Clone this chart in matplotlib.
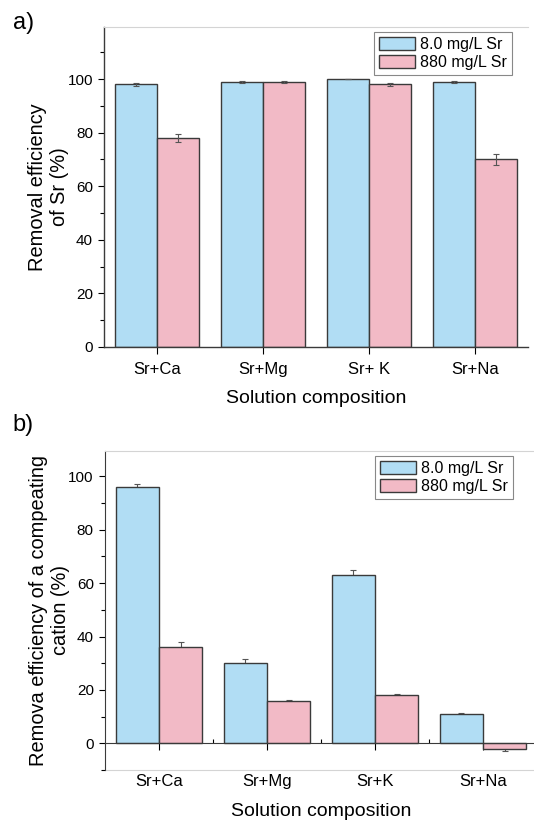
import numpy as np
import matplotlib
matplotlib.use("Agg")
import matplotlib.pyplot as plt
from matplotlib.ticker import MultipleLocator

plt.rcParams['font.family'] = ['Liberation Sans', 'DejaVu Sans']

# data
groups = ['Sr+Ca', 'Sr+Mg', 'Sr+ K', 'Sr+Na']
groups_b = ['Sr+Ca', 'Sr+Mg', 'Sr+K', 'Sr+Na']
series = ['8.0 mg/L Sr', '880 mg/L Sr']

# a) removal of Sr
sr_low = [98, 99, 100, 99]
sr_low_err = [0.4, 0.3, 0.0, 0.3]
sr_high = [78, 99, 98, 70]
sr_high_err = [1.4, 0.3, 0.4, 2.0]

# b) removal of the competing cation
cat_low = [96, 30, 63, 11]
cat_low_err = [1.0, 1.6, 2.0, 0.5]
cat_high = [36, 16, 18, -2]
cat_high_err = [2.0, 0.3, 0.3, 0.8]

blue = '#B1DDF4'
pink = '#F2BAC6'
edge = '#3a3a3a'
light = '#d4d4d4'

fig = plt.figure(figsize=(5.34, 8.22), dpi=100)
ax1 = fig.add_axes([0.1948, 0.578, 0.794, 0.3893])
ax2 = fig.add_axes([0.1966, 0.0633, 0.809, 0.388])

x = np.arange(1, len(groups) + 1)
w = 0.4

# ---- panel a
ax1.bar(x - w/2, sr_low, w, color=blue, edgecolor=edge, linewidth=1, label=series[0], zorder=2)
ax1.bar(x + w/2, sr_high, w, color=pink, edgecolor=edge, linewidth=1, label=series[1], zorder=2)
ax1.errorbar(x - w/2, sr_low, yerr=sr_low_err, fmt='none', ecolor='#555555', elinewidth=0.8, capsize=2.5, capthick=0.8, zorder=3)
ax1.errorbar(x + w/2, sr_high, yerr=sr_high_err, fmt='none', ecolor='#555555', elinewidth=0.8, capsize=2.5, capthick=0.8, zorder=3)
ax1.set_xlim(0.5, 4.5)
ax1.set_ylim(0, 119.5)
ax1.set_yticks([0, 20, 40, 60, 80, 100])
ax1.yaxis.set_minor_locator(MultipleLocator(10))
ax1.set_xticks(x, groups)
ax1.set_ylabel('Removal efficiency\nof Sr (%)', fontsize=14.4, labelpad=-1.5)
ax1.set_xlabel('Solution composition', fontsize=14, labelpad=9)
ax1.tick_params(axis='y', which='major', direction='out', length=4.5, width=0.8, labelsize=11)
ax1.tick_params(axis='y', which='minor', direction='out', length=3, width=0.8)
ax1.tick_params(axis='x', which='major', direction='out', length=5, width=0.8, labelsize=12, pad=6)
ax1.spines['right'].set_visible(False)
ax1.spines['top'].set_color(light)
for s in ['left', 'bottom']:
    ax1.spines[s].set_color(edge)
    ax1.spines[s].set_linewidth(1)
leg1 = ax1.legend(loc='upper right', bbox_to_anchor=(0.962, 0.984), borderaxespad=0,
                  fontsize=11.5, fancybox=False, edgecolor='#888888', framealpha=1,
                  handlelength=2.3, handleheight=0.85, handletextpad=0.3,
                  labelspacing=0.2, borderpad=0.3)
leg1.get_frame().set_linewidth(0.8)

# ---- panel b
ax2.bar(x - w/2, cat_low, w, color=blue, edgecolor=edge, linewidth=1, label=series[0], zorder=2)
ax2.bar(x + w/2, cat_high, w, color=pink, edgecolor=edge, linewidth=1, label=series[1], zorder=2)
# error bars sit behind the bars, so only the outer half shows
ax2.errorbar(x - w/2, cat_low, yerr=cat_low_err, fmt='none', ecolor='#555555', elinewidth=0.8, capsize=2.5, capthick=0.8, zorder=1)
ax2.errorbar(x + w/2, cat_high, yerr=cat_high_err, fmt='none', ecolor='#555555', elinewidth=0.8, capsize=2.5, capthick=0.8, zorder=1)
ax2.set_xlim(0.5, 4.5)
ax2.set_ylim(-10, 109.5)
ax2.set_yticks([0, 20, 40, 60, 80, 100])
ax2.yaxis.set_minor_locator(MultipleLocator(10))
ax2.spines['bottom'].set_position(('data', 0))
ax2.spines['bottom'].set_color(edge)
ax2.spines['bottom'].set_zorder(3)
ax2.spines['left'].set_color(edge)
ax2.spines['right'].set_visible(False)
ax2.spines['top'].set_color(light)
ax2.set_xticks(x)
ax2.set_xticks(x[:-1] + 0.5, minor=True)
ax2.tick_params(axis='x', which='major', direction='out', length=5, width=0.8, labelbottom=False)
ax2.tick_params(axis='x', which='minor', direction='in', length=3, width=0.8)
ax2.tick_params(axis='y', which='major', direction='out', length=4.5, width=0.8, labelsize=11)
ax2.tick_params(axis='y', which='minor', direction='out', length=3, width=0.8)
ax2.set_ylabel('Remova efficiency of a compeating\ncation (%)', fontsize=14.4, labelpad=-1.5)

sec = ax2.secondary_xaxis('bottom')
sec.set_xticks(x, groups_b)
sec.tick_params(length=0, labelsize=12, pad=3)
sec.spines['bottom'].set_color(light)
sec.set_xlabel('Solution composition', fontsize=14, labelpad=10)

leg2 = ax2.legend(loc='upper right', bbox_to_anchor=(0.944, 0.984), borderaxespad=0,
                  fontsize=11.5, fancybox=False, edgecolor='#888888', framealpha=1,
                  handlelength=2.3, handleheight=0.85, handletextpad=0.3,
                  labelspacing=0.2, borderpad=0.3)
leg2.get_frame().set_linewidth(0.8)

fig.text(0.024, 0.985, 'a)', fontsize=17, va='top')
fig.text(0.024, 0.496, 'b)', fontsize=17, va='top')

fig.savefig('out.png', dpi=100)
